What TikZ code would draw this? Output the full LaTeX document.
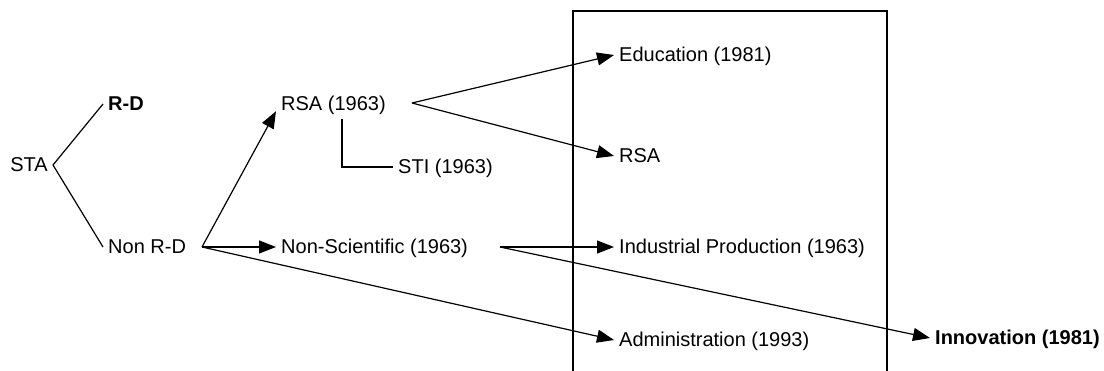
\documentclass[tikz,border=0pt]{standalone}
\usepackage{fontspec}
\setmainfont{Liberation Sans}
\usetikzlibrary{arrows.meta}
\begin{document}
\begin{tikzpicture}[x=1pt,y=-1pt,
  lbl/.style={anchor=base west,inner xsep=5pt,inner ysep=0pt,text height=14pt,text depth=0pt,font=\fontsize{20}{24}\selectfont},
  conn/.style={line width=1.2pt},
  arr/.style={conn,-{Triangle[length=17pt,width=13pt]}}]
\useasboundingbox (0,0) rectangle (1104,371);
% frame (open at bottom)
\draw[conn] (573,372) -- (573,11) -- (887,11) -- (887,372);
% nodes
\node[lbl,anchor=base east] (sta) at (53,172) {STA};
\node[lbl] (rd) at (103,111) {\bfseries R-D};
\node[lbl] (nrd) at (103,254) {Non R-D};
\node[lbl] (rsa63) at (276,111) {RSA (1963)};
\node[lbl] (sti) at (393,174) {STI (1963)};
\node[lbl] (ns) at (276,254) {Non-Scientific (1963)};
\node[lbl] (edu) at (614,62) {Education (1981)};
\node[lbl] (rsa) at (614,163) {RSA};
\node[lbl] (ind) at (614,254) {Industrial Production (1963)};
\node[lbl] (adm) at (614,347) {Administration (1993)};
\node[lbl] (inn) at (930,345) {\bfseries Innovation (1981)};
% branch points
\coordinate (nrdout) at (202,247);
\coordinate (rsaout) at (412,103);
\coordinate (nsout) at (500,247);
\coordinate (stitop) at (342,119);
% connectors
\draw[conn] (rd.west) -- (sta.east) -- (nrd.west);
\draw[arr] (nrdout) -- (rsa63.south west);
\draw[arr] (nrdout) -- (ns.west);
\draw[arr] (nrdout) -- (adm.west);
\draw[arr] (rsaout) -- (edu.west);
\draw[arr] (rsaout) -- (rsa.west);
\draw[conn] (stitop) |- (sti.west);
\draw[arr] (nsout) -- (ind.west);
\draw[arr] (nsout) -- (inn.west);
\end{tikzpicture}
\end{document}
